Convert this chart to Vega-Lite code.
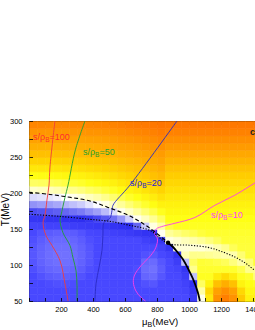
{
"$schema":"https://vega.github.io/schema/vega-lite/v6.json",
"width":256,"height":180,
"autosize":"none",
"padding":{"left":29,"top":121,"right":0,"bottom":29},
"background":"white",
"config":{
 "font":"Liberation Sans",
 "view":{"stroke":"black","strokeWidth":1},
 "axis":{"domain":false,"grid":false,"ticks":true,"tickColor":"black","tickWidth":0.8,"tickSize":-3.5,"labelFont":"Liberation Sans","labelFontSize":7.5,"labelColor":"black","titleFont":"Liberation Sans","titleColor":"black","titleFontWeight":"normal","labelFlush":false,"labelOverlap":false}
},
"datasets":{
"grid":[
{"m":0,"t":50,"v":-2},{"m":0,"t":60,"v":-2},{"m":0,"t":70,"v":-2},{"m":0,"t":80,"v":-2},{"m":0,"t":90,"v":-2.14},{"m":0,"t":100,"v":-2.25},{"m":0,"t":110,"v":-2.29},{"m":0,"t":120,"v":-2.25},{"m":0,"t":130,"v":-2.14},{"m":0,"t":140,"v":-2},{"m":0,"t":150,"v":-1.8},{"m":0,"t":160,"v":-1.3},{"m":0,"t":170,"v":-0.86},{"m":0,"t":180,"v":-0.52},{"m":0,"t":190,"v":-0.17},{"m":0,"t":200,"v":0.5},{"m":0,"t":210,"v":1.39},{"m":0,"t":220,"v":2.03},{"m":0,"t":230,"v":2.53},{"m":0,"t":240,"v":2.98},{"m":0,"t":250,"v":3.36},{"m":0,"t":260,"v":3.68},{"m":0,"t":270,"v":3.96},{"m":0,"t":280,"v":4.22},{"m":0,"t":290,"v":4.52},
{"m":50,"t":50,"v":-2},{"m":50,"t":60,"v":-2},{"m":50,"t":70,"v":-2},{"m":50,"t":80,"v":-2.19},{"m":50,"t":90,"v":-2.38},{"m":50,"t":100,"v":-2.5},{"m":50,"t":110,"v":-2.54},{"m":50,"t":120,"v":-2.5},{"m":50,"t":130,"v":-2.38},{"m":50,"t":140,"v":-2.19},{"m":50,"t":150,"v":-1.75},{"m":50,"t":160,"v":-1.25},{"m":50,"t":170,"v":-0.83},{"m":50,"t":180,"v":-0.48},{"m":50,"t":190,"v":-0.14},{"m":50,"t":200,"v":0.58},{"m":50,"t":210,"v":1.44},{"m":50,"t":220,"v":2.07},{"m":50,"t":230,"v":2.55},{"m":50,"t":240,"v":2.99},{"m":50,"t":250,"v":3.36},{"m":50,"t":260,"v":3.68},{"m":50,"t":270,"v":3.95},{"m":50,"t":280,"v":4.21},{"m":50,"t":290,"v":4.5},
{"m":100,"t":50,"v":-2},{"m":100,"t":60,"v":-2},{"m":100,"t":70,"v":-2.08},{"m":100,"t":80,"v":-2.36},{"m":100,"t":90,"v":-2.55},{"m":100,"t":100,"v":-2.67},{"m":100,"t":110,"v":-2.71},{"m":100,"t":120,"v":-2.67},{"m":100,"t":130,"v":-2.55},{"m":100,"t":140,"v":-2.36},{"m":100,"t":150,"v":-1.78},{"m":100,"t":160,"v":-1.23},{"m":100,"t":170,"v":-0.81},{"m":100,"t":180,"v":-0.47},{"m":100,"t":190,"v":-0.12},{"m":100,"t":200,"v":0.62},{"m":100,"t":210,"v":1.46},{"m":100,"t":220,"v":2.07},{"m":100,"t":230,"v":2.55},{"m":100,"t":240,"v":2.98},{"m":100,"t":250,"v":3.34},{"m":100,"t":260,"v":3.66},{"m":100,"t":270,"v":3.93},{"m":100,"t":280,"v":4.18},{"m":100,"t":290,"v":4.47},
{"m":150,"t":50,"v":-2},{"m":150,"t":60,"v":-2},{"m":150,"t":70,"v":-2.16},{"m":150,"t":80,"v":-2.44},{"m":150,"t":90,"v":-2.63},{"m":150,"t":100,"v":-2.75},{"m":150,"t":110,"v":-2.79},{"m":150,"t":120,"v":-2.75},{"m":150,"t":130,"v":-2.63},{"m":150,"t":140,"v":-2.44},{"m":150,"t":150,"v":-1.78},{"m":150,"t":160,"v":-1.18},{"m":150,"t":170,"v":-0.77},{"m":150,"t":180,"v":-0.42},{"m":150,"t":190,"v":-0.07},{"m":150,"t":200,"v":0.75},{"m":150,"t":210,"v":1.53},{"m":150,"t":220,"v":2.12},{"m":150,"t":230,"v":2.58},{"m":150,"t":240,"v":3},{"m":150,"t":250,"v":3.36},{"m":150,"t":260,"v":3.67},{"m":150,"t":270,"v":3.93},{"m":150,"t":280,"v":4.18},{"m":150,"t":290,"v":4.46},
{"m":200,"t":50,"v":-2},{"m":200,"t":60,"v":-2},{"m":200,"t":70,"v":-2.16},{"m":200,"t":80,"v":-2.44},{"m":200,"t":90,"v":-2.63},{"m":200,"t":100,"v":-2.75},{"m":200,"t":110,"v":-2.79},{"m":200,"t":120,"v":-2.75},{"m":200,"t":130,"v":-2.63},{"m":200,"t":140,"v":-2.44},{"m":200,"t":150,"v":-1.72},{"m":200,"t":160,"v":-1.13},{"m":200,"t":170,"v":-0.73},{"m":200,"t":180,"v":-0.36},{"m":200,"t":190,"v":0},{"m":200,"t":200,"v":0.92},{"m":200,"t":210,"v":1.64},{"m":200,"t":220,"v":2.18},{"m":200,"t":230,"v":2.64},{"m":200,"t":240,"v":3.04},{"m":200,"t":250,"v":3.39},{"m":200,"t":260,"v":3.69},{"m":200,"t":270,"v":3.94},{"m":200,"t":280,"v":4.19},{"m":200,"t":290,"v":4.46},
{"m":250,"t":50,"v":-2},{"m":250,"t":60,"v":-2},{"m":250,"t":70,"v":-2.08},{"m":250,"t":80,"v":-2.36},{"m":250,"t":90,"v":-2.55},{"m":250,"t":100,"v":-2.67},{"m":250,"t":110,"v":-2.71},{"m":250,"t":120,"v":-2.67},{"m":250,"t":130,"v":-2.55},{"m":250,"t":140,"v":-2.36},{"m":250,"t":150,"v":-1.62},{"m":250,"t":160,"v":-1.08},{"m":250,"t":170,"v":-0.68},{"m":250,"t":180,"v":-0.3},{"m":250,"t":190,"v":0.18},{"m":250,"t":200,"v":1.07},{"m":250,"t":210,"v":1.74},{"m":250,"t":220,"v":2.25},{"m":250,"t":230,"v":2.7},{"m":250,"t":240,"v":3.08},{"m":250,"t":250,"v":3.41},{"m":250,"t":260,"v":3.7},{"m":250,"t":270,"v":3.95},{"m":250,"t":280,"v":4.19},{"m":250,"t":290,"v":4.47},
{"m":300,"t":50,"v":-2},{"m":300,"t":60,"v":-2},{"m":300,"t":70,"v":-2},{"m":300,"t":80,"v":-2.19},{"m":300,"t":90,"v":-2.38},{"m":300,"t":100,"v":-2.5},{"m":300,"t":110,"v":-2.54},{"m":300,"t":120,"v":-2.5},{"m":300,"t":130,"v":-2.38},{"m":300,"t":140,"v":-2.19},{"m":300,"t":150,"v":-1.53},{"m":300,"t":160,"v":-1.03},{"m":300,"t":170,"v":-0.63},{"m":300,"t":180,"v":-0.24},{"m":300,"t":190,"v":0.35},{"m":300,"t":200,"v":1.19},{"m":300,"t":210,"v":1.83},{"m":300,"t":220,"v":2.31},{"m":300,"t":230,"v":2.75},{"m":300,"t":240,"v":3.11},{"m":300,"t":250,"v":3.43},{"m":300,"t":260,"v":3.72},{"m":300,"t":270,"v":3.96},{"m":300,"t":280,"v":4.2},{"m":300,"t":290,"v":4.46},
{"m":350,"t":50,"v":-2},{"m":350,"t":60,"v":-2},{"m":350,"t":70,"v":-2},{"m":350,"t":80,"v":-2},{"m":350,"t":90,"v":-2.14},{"m":350,"t":100,"v":-2.25},{"m":350,"t":110,"v":-2.29},{"m":350,"t":120,"v":-2.25},{"m":350,"t":130,"v":-2.14},{"m":350,"t":140,"v":-1.95},{"m":350,"t":150,"v":-1.45},{"m":350,"t":160,"v":-0.96},{"m":350,"t":170,"v":-0.54},{"m":350,"t":180,"v":-0.13},{"m":350,"t":190,"v":0.61},{"m":350,"t":200,"v":1.38},{"m":350,"t":210,"v":1.96},{"m":350,"t":220,"v":2.41},{"m":350,"t":230,"v":2.83},{"m":350,"t":240,"v":3.18},{"m":350,"t":250,"v":3.49},{"m":350,"t":260,"v":3.76},{"m":350,"t":270,"v":3.99},{"m":350,"t":280,"v":4.23},{"m":350,"t":290,"v":4.49},
{"m":400,"t":50,"v":-2},{"m":400,"t":60,"v":-2},{"m":400,"t":70,"v":-2},{"m":400,"t":80,"v":-2},{"m":400,"t":90,"v":-2},{"m":400,"t":100,"v":-2},{"m":400,"t":110,"v":-2},{"m":400,"t":120,"v":-2},{"m":400,"t":130,"v":-2},{"m":400,"t":140,"v":-1.88},{"m":400,"t":150,"v":-1.38},{"m":400,"t":160,"v":-0.89},{"m":400,"t":170,"v":-0.46},{"m":400,"t":180,"v":-0.02},{"m":400,"t":190,"v":0.81},{"m":400,"t":200,"v":1.51},{"m":400,"t":210,"v":2.06},{"m":400,"t":220,"v":2.48},{"m":400,"t":230,"v":2.88},{"m":400,"t":240,"v":3.22},{"m":400,"t":250,"v":3.52},{"m":400,"t":260,"v":3.78},{"m":400,"t":270,"v":4},{"m":400,"t":280,"v":4.24},{"m":400,"t":290,"v":4.5},
{"m":450,"t":50,"v":-2},{"m":450,"t":60,"v":-2},{"m":450,"t":70,"v":-2},{"m":450,"t":80,"v":-2},{"m":450,"t":90,"v":-2},{"m":450,"t":100,"v":-2},{"m":450,"t":110,"v":-2},{"m":450,"t":120,"v":-2},{"m":450,"t":130,"v":-2},{"m":450,"t":140,"v":-1.8},{"m":450,"t":150,"v":-1.3},{"m":450,"t":160,"v":-0.81},{"m":450,"t":170,"v":-0.33},{"m":450,"t":180,"v":0.25},{"m":450,"t":190,"v":1.07},{"m":450,"t":200,"v":1.69},{"m":450,"t":210,"v":2.18},{"m":450,"t":220,"v":2.6},{"m":450,"t":230,"v":2.97},{"m":450,"t":240,"v":3.29},{"m":450,"t":250,"v":3.58},{"m":450,"t":260,"v":3.83},{"m":450,"t":270,"v":4.04},{"m":450,"t":280,"v":4.28},{"m":450,"t":290,"v":4.53},
{"m":500,"t":50,"v":-2},{"m":500,"t":60,"v":-2},{"m":500,"t":70,"v":-2},{"m":500,"t":80,"v":-2},{"m":500,"t":90,"v":-2},{"m":500,"t":100,"v":-2},{"m":500,"t":110,"v":-2},{"m":500,"t":120,"v":-2},{"m":500,"t":130,"v":-2},{"m":500,"t":140,"v":-1.7},{"m":500,"t":150,"v":-1.2},{"m":500,"t":160,"v":-0.68},{"m":500,"t":170,"v":-0.16},{"m":500,"t":180,"v":0.57},{"m":500,"t":190,"v":1.31},{"m":500,"t":200,"v":1.87},{"m":500,"t":210,"v":2.31},{"m":500,"t":220,"v":2.72},{"m":500,"t":230,"v":3.06},{"m":500,"t":240,"v":3.36},{"m":500,"t":250,"v":3.63},{"m":500,"t":260,"v":3.88},{"m":500,"t":270,"v":4.08},{"m":500,"t":280,"v":4.32},{"m":500,"t":290,"v":4.57},
{"m":550,"t":50,"v":-2},{"m":550,"t":60,"v":-2},{"m":550,"t":70,"v":-2},{"m":550,"t":80,"v":-2},{"m":550,"t":90,"v":-2},{"m":550,"t":100,"v":-2},{"m":550,"t":110,"v":-2},{"m":550,"t":120,"v":-2},{"m":550,"t":130,"v":-2},{"m":550,"t":140,"v":-1.6},{"m":550,"t":150,"v":-1.1},{"m":550,"t":160,"v":-0.5},{"m":550,"t":170,"v":0.16},{"m":550,"t":180,"v":0.96},{"m":550,"t":190,"v":1.58},{"m":550,"t":200,"v":2.08},{"m":550,"t":210,"v":2.48},{"m":550,"t":220,"v":2.86},{"m":550,"t":230,"v":3.18},{"m":550,"t":240,"v":3.46},{"m":550,"t":250,"v":3.72},{"m":550,"t":260,"v":3.94},{"m":550,"t":270,"v":4.15},{"m":550,"t":280,"v":4.39},{"m":550,"t":290,"v":4.63},
{"m":600,"t":50,"v":-2},{"m":600,"t":60,"v":-2},{"m":600,"t":70,"v":-2},{"m":600,"t":80,"v":-2},{"m":600,"t":90,"v":-2},{"m":600,"t":100,"v":-2},{"m":600,"t":110,"v":-2},{"m":600,"t":120,"v":-2},{"m":600,"t":130,"v":-2},{"m":600,"t":140,"v":-1.5},{"m":600,"t":150,"v":-1},{"m":600,"t":160,"v":-0.23},{"m":600,"t":170,"v":0.55},{"m":600,"t":180,"v":1.26},{"m":600,"t":190,"v":1.82},{"m":600,"t":200,"v":2.25},{"m":600,"t":210,"v":2.64},{"m":600,"t":220,"v":2.98},{"m":600,"t":230,"v":3.28},{"m":600,"t":240,"v":3.55},{"m":600,"t":250,"v":3.79},{"m":600,"t":260,"v":3.99},{"m":600,"t":270,"v":4.19},{"m":600,"t":280,"v":4.44},{"m":600,"t":290,"v":4.68},
{"m":650,"t":50,"v":-2},{"m":650,"t":60,"v":-2},{"m":650,"t":70,"v":-2},{"m":650,"t":80,"v":-2},{"m":650,"t":90,"v":-2.09},{"m":650,"t":100,"v":-2},{"m":650,"t":110,"v":-2},{"m":650,"t":120,"v":-2},{"m":650,"t":130,"v":-2},{"m":650,"t":140,"v":-1.35},{"m":650,"t":150,"v":-0.73},{"m":650,"t":160,"v":0.15},{"m":650,"t":170,"v":0.92},{"m":650,"t":180,"v":1.53},{"m":650,"t":190,"v":2.01},{"m":650,"t":200,"v":2.41},{"m":650,"t":210,"v":2.79},{"m":650,"t":220,"v":3.1},{"m":650,"t":230,"v":3.38},{"m":650,"t":240,"v":3.63},{"m":650,"t":250,"v":3.86},{"m":650,"t":260,"v":4.05},{"m":650,"t":270,"v":4.27},{"m":650,"t":280,"v":4.5},{"m":650,"t":290,"v":4.72},
{"m":700,"t":50,"v":-2},{"m":700,"t":60,"v":-2},{"m":700,"t":70,"v":-2.17},{"m":700,"t":80,"v":-2.55},{"m":700,"t":90,"v":-2.68},{"m":700,"t":100,"v":-2.55},{"m":700,"t":110,"v":-2.17},{"m":700,"t":120,"v":-2},{"m":700,"t":130,"v":-1.7},{"m":700,"t":140,"v":-1.2},{"m":700,"t":150,"v":-0.25},{"m":700,"t":160,"v":0.6},{"m":700,"t":170,"v":1.27},{"m":700,"t":180,"v":1.8},{"m":700,"t":190,"v":2.22},{"m":700,"t":200,"v":2.59},{"m":700,"t":210,"v":2.93},{"m":700,"t":220,"v":3.22},{"m":700,"t":230,"v":3.49},{"m":700,"t":240,"v":3.72},{"m":700,"t":250,"v":3.93},{"m":700,"t":260,"v":4.12},{"m":700,"t":270,"v":4.34},{"m":700,"t":280,"v":4.57},{"m":700,"t":290,"v":4.76},
{"m":750,"t":50,"v":-2},{"m":750,"t":60,"v":-2},{"m":750,"t":70,"v":-2.27},{"m":750,"t":80,"v":-2.65},{"m":750,"t":90,"v":-2.78},{"m":750,"t":100,"v":-2.65},{"m":750,"t":110,"v":-2.27},{"m":750,"t":120,"v":-2},{"m":750,"t":130,"v":-1.5},{"m":750,"t":140,"v":-1},{"m":750,"t":150,"v":0.29},{"m":750,"t":160,"v":1.02},{"m":750,"t":170,"v":1.58},{"m":750,"t":180,"v":2.04},{"m":750,"t":190,"v":2.41},{"m":750,"t":200,"v":2.77},{"m":750,"t":210,"v":3.07},{"m":750,"t":220,"v":3.34},{"m":750,"t":230,"v":3.59},{"m":750,"t":240,"v":3.81},{"m":750,"t":250,"v":4},{"m":750,"t":260,"v":4.19},{"m":750,"t":270,"v":4.41},{"m":750,"t":280,"v":4.63},{"m":750,"t":290,"v":4.8},
{"m":800,"t":50,"v":-2},{"m":800,"t":60,"v":-2},{"m":800,"t":70,"v":-2},{"m":800,"t":80,"v":-2.26},{"m":800,"t":90,"v":-2.38},{"m":800,"t":100,"v":-2.26},{"m":800,"t":110,"v":-2},{"m":800,"t":120,"v":-1.75},{"m":800,"t":130,"v":-1.25},{"m":800,"t":140,"v":0.14},{"m":800,"t":150,"v":0.85},{"m":800,"t":160,"v":1.44},{"m":800,"t":170,"v":1.92},{"m":800,"t":180,"v":2.3},{"m":800,"t":190,"v":2.65},{"m":800,"t":200,"v":2.96},{"m":800,"t":210,"v":3.24},{"m":800,"t":220,"v":3.49},{"m":800,"t":230,"v":3.71},{"m":800,"t":240,"v":3.91},{"m":800,"t":250,"v":4.09},{"m":800,"t":260,"v":4.3},{"m":800,"t":270,"v":4.51},{"m":800,"t":280,"v":4.72},{"m":800,"t":290,"v":4.86},
{"m":850,"t":50,"v":-2},{"m":850,"t":60,"v":-2},{"m":850,"t":70,"v":-2},{"m":850,"t":80,"v":-2},{"m":850,"t":90,"v":-2},{"m":850,"t":100,"v":-2},{"m":850,"t":110,"v":-1.78},{"m":850,"t":120,"v":-1.3},{"m":850,"t":130,"v":0.28},{"m":850,"t":140,"v":0.98},{"m":850,"t":150,"v":1.68},{"m":850,"t":160,"v":2},{"m":850,"t":170,"v":2.15},{"m":850,"t":180,"v":2.3},{"m":850,"t":190,"v":2.5},{"m":850,"t":200,"v":2.7},{"m":850,"t":210,"v":2.9},{"m":850,"t":220,"v":3.1},{"m":850,"t":230,"v":3.35},{"m":850,"t":240,"v":3.6},{"m":850,"t":250,"v":3.85},{"m":850,"t":260,"v":4.1},{"m":850,"t":270,"v":4.35},{"m":850,"t":280,"v":4.6},{"m":850,"t":290,"v":4.8},
{"m":900,"t":50,"v":-2},{"m":900,"t":60,"v":-2},{"m":900,"t":70,"v":-2},{"m":900,"t":80,"v":-2},{"m":900,"t":90,"v":-1.84},{"m":900,"t":100,"v":-1.56},{"m":900,"t":110,"v":-1.2},{"m":900,"t":120,"v":0.4},{"m":900,"t":130,"v":0.47},{"m":900,"t":140,"v":1.17},{"m":900,"t":150,"v":1.9},{"m":900,"t":160,"v":2},{"m":900,"t":170,"v":2.15},{"m":900,"t":180,"v":2.3},{"m":900,"t":190,"v":2.5},{"m":900,"t":200,"v":2.7},{"m":900,"t":210,"v":2.9},{"m":900,"t":220,"v":3.1},{"m":900,"t":230,"v":3.35},{"m":900,"t":240,"v":3.6},{"m":900,"t":250,"v":3.85},{"m":900,"t":260,"v":4.1},{"m":900,"t":270,"v":4.35},{"m":900,"t":280,"v":4.6},{"m":900,"t":290,"v":4.8},
{"m":950,"t":50,"v":-2},{"m":950,"t":60,"v":-1.89},{"m":950,"t":70,"v":-1.75},{"m":950,"t":80,"v":-1.54},{"m":950,"t":90,"v":-1.29},{"m":950,"t":100,"v":-0.3},{"m":950,"t":110,"v":0.7},{"m":950,"t":120,"v":0.37},{"m":950,"t":130,"v":0.65},{"m":950,"t":140,"v":1.35},{"m":950,"t":150,"v":1.9},{"m":950,"t":160,"v":2},{"m":950,"t":170,"v":2.15},{"m":950,"t":180,"v":2.3},{"m":950,"t":190,"v":2.5},{"m":950,"t":200,"v":2.7},{"m":950,"t":210,"v":2.9},{"m":950,"t":220,"v":3.1},{"m":950,"t":230,"v":3.35},{"m":950,"t":240,"v":3.6},{"m":950,"t":250,"v":3.85},{"m":950,"t":260,"v":4.1},{"m":950,"t":270,"v":4.35},{"m":950,"t":280,"v":4.6},{"m":950,"t":290,"v":4.8},
{"m":1000,"t":50,"v":-1.46},{"m":1000,"t":60,"v":-1.34},{"m":1000,"t":70,"v":-1.2},{"m":1000,"t":80,"v":-0.3},{"m":1000,"t":90,"v":1.06},{"m":1000,"t":100,"v":1.4},{"m":1000,"t":110,"v":1.08},{"m":1000,"t":120,"v":0.38},{"m":1000,"t":130,"v":0.8},{"m":1000,"t":140,"v":1.5},{"m":1000,"t":150,"v":1.9},{"m":1000,"t":160,"v":2},{"m":1000,"t":170,"v":2.15},{"m":1000,"t":180,"v":2.3},{"m":1000,"t":190,"v":2.5},{"m":1000,"t":200,"v":2.7},{"m":1000,"t":210,"v":2.9},{"m":1000,"t":220,"v":3.1},{"m":1000,"t":230,"v":3.35},{"m":1000,"t":240,"v":3.6},{"m":1000,"t":250,"v":3.85},{"m":1000,"t":260,"v":4.1},{"m":1000,"t":270,"v":4.35},{"m":1000,"t":280,"v":4.6},{"m":1000,"t":290,"v":4.8},
{"m":1050,"t":50,"v":0.2},{"m":1050,"t":60,"v":0.84},{"m":1050,"t":70,"v":1.4},{"m":1050,"t":80,"v":1.9},{"m":1050,"t":90,"v":1.8},{"m":1050,"t":100,"v":1.75},{"m":1050,"t":110,"v":1.06},{"m":1050,"t":120,"v":0.36},{"m":1050,"t":130,"v":0.99},{"m":1050,"t":140,"v":1.69},{"m":1050,"t":150,"v":1.9},{"m":1050,"t":160,"v":2},{"m":1050,"t":170,"v":2.15},{"m":1050,"t":180,"v":2.3},{"m":1050,"t":190,"v":2.5},{"m":1050,"t":200,"v":2.7},{"m":1050,"t":210,"v":2.9},{"m":1050,"t":220,"v":3.1},{"m":1050,"t":230,"v":3.35},{"m":1050,"t":240,"v":3.6},{"m":1050,"t":250,"v":3.85},{"m":1050,"t":260,"v":4.1},{"m":1050,"t":270,"v":4.35},{"m":1050,"t":280,"v":4.6},{"m":1050,"t":290,"v":4.8},
{"m":1100,"t":50,"v":2.55},{"m":1100,"t":60,"v":2.87},{"m":1100,"t":70,"v":2.25},{"m":1100,"t":80,"v":1.9},{"m":1100,"t":90,"v":1.8},{"m":1100,"t":100,"v":1.7},{"m":1100,"t":110,"v":1},{"m":1100,"t":120,"v":0.5},{"m":1100,"t":130,"v":1.2},{"m":1100,"t":140,"v":1.8},{"m":1100,"t":150,"v":1.9},{"m":1100,"t":160,"v":2},{"m":1100,"t":170,"v":2.15},{"m":1100,"t":180,"v":2.3},{"m":1100,"t":190,"v":2.5},{"m":1100,"t":200,"v":2.7},{"m":1100,"t":210,"v":2.9},{"m":1100,"t":220,"v":3.1},{"m":1100,"t":230,"v":3.35},{"m":1100,"t":240,"v":3.6},{"m":1100,"t":250,"v":3.85},{"m":1100,"t":260,"v":4.1},{"m":1100,"t":270,"v":4.35},{"m":1100,"t":280,"v":4.6},{"m":1100,"t":290,"v":4.8},
{"m":1150,"t":50,"v":4.29},{"m":1150,"t":60,"v":3.98},{"m":1150,"t":70,"v":3.35},{"m":1150,"t":80,"v":2.42},{"m":1150,"t":90,"v":1.8},{"m":1150,"t":100,"v":1.6},{"m":1150,"t":110,"v":0.9},{"m":1150,"t":120,"v":0.76},{"m":1150,"t":130,"v":1.46},{"m":1150,"t":140,"v":1.8},{"m":1150,"t":150,"v":1.9},{"m":1150,"t":160,"v":2},{"m":1150,"t":170,"v":2.15},{"m":1150,"t":180,"v":2.3},{"m":1150,"t":190,"v":2.5},{"m":1150,"t":200,"v":2.7},{"m":1150,"t":210,"v":2.9},{"m":1150,"t":220,"v":3.1},{"m":1150,"t":230,"v":3.35},{"m":1150,"t":240,"v":3.6},{"m":1150,"t":250,"v":3.85},{"m":1150,"t":260,"v":4.1},{"m":1150,"t":270,"v":4.35},{"m":1150,"t":280,"v":4.6},{"m":1150,"t":290,"v":4.8},
{"m":1200,"t":50,"v":4.66},{"m":1200,"t":60,"v":4.35},{"m":1200,"t":70,"v":3.73},{"m":1200,"t":80,"v":2.79},{"m":1200,"t":90,"v":1.8},{"m":1200,"t":100,"v":1.47},{"m":1200,"t":110,"v":0.77},{"m":1200,"t":120,"v":1.05},{"m":1200,"t":130,"v":1.75},{"m":1200,"t":140,"v":1.8},{"m":1200,"t":150,"v":1.9},{"m":1200,"t":160,"v":2},{"m":1200,"t":170,"v":2.15},{"m":1200,"t":180,"v":2.3},{"m":1200,"t":190,"v":2.5},{"m":1200,"t":200,"v":2.7},{"m":1200,"t":210,"v":2.9},{"m":1200,"t":220,"v":3.1},{"m":1200,"t":230,"v":3.35},{"m":1200,"t":240,"v":3.6},{"m":1200,"t":250,"v":3.85},{"m":1200,"t":260,"v":4.1},{"m":1200,"t":270,"v":4.35},{"m":1200,"t":280,"v":4.6},{"m":1200,"t":290,"v":4.8},
{"m":1250,"t":50,"v":4.29},{"m":1250,"t":60,"v":3.98},{"m":1250,"t":70,"v":3.35},{"m":1250,"t":80,"v":2.42},{"m":1250,"t":90,"v":1.8},{"m":1250,"t":100,"v":1.2},{"m":1250,"t":110,"v":0.78},{"m":1250,"t":120,"v":1.48},{"m":1250,"t":130,"v":1.75},{"m":1250,"t":140,"v":1.8},{"m":1250,"t":150,"v":1.9},{"m":1250,"t":160,"v":2},{"m":1250,"t":170,"v":2.15},{"m":1250,"t":180,"v":2.3},{"m":1250,"t":190,"v":2.5},{"m":1250,"t":200,"v":2.7},{"m":1250,"t":210,"v":2.9},{"m":1250,"t":220,"v":3.1},{"m":1250,"t":230,"v":3.35},{"m":1250,"t":240,"v":3.6},{"m":1250,"t":250,"v":3.85},{"m":1250,"t":260,"v":4.1},{"m":1250,"t":270,"v":4.35},{"m":1250,"t":280,"v":4.6},{"m":1250,"t":290,"v":4.8},
{"m":1300,"t":50,"v":3.18},{"m":1300,"t":60,"v":2.87},{"m":1300,"t":70,"v":2.25},{"m":1300,"t":80,"v":1.9},{"m":1300,"t":90,"v":1.56},{"m":1300,"t":100,"v":0.86},{"m":1300,"t":110,"v":1.28},{"m":1300,"t":120,"v":1.7},{"m":1300,"t":130,"v":1.75},{"m":1300,"t":140,"v":1.8},{"m":1300,"t":150,"v":1.9},{"m":1300,"t":160,"v":2},{"m":1300,"t":170,"v":2.15},{"m":1300,"t":180,"v":2.3},{"m":1300,"t":190,"v":2.5},{"m":1300,"t":200,"v":2.7},{"m":1300,"t":210,"v":2.9},{"m":1300,"t":220,"v":3.1},{"m":1300,"t":230,"v":3.35},{"m":1300,"t":240,"v":3.6},{"m":1300,"t":250,"v":3.85},{"m":1300,"t":260,"v":4.1},{"m":1300,"t":270,"v":4.35},{"m":1300,"t":280,"v":4.6},{"m":1300,"t":290,"v":4.8},
{"m":1350,"t":50,"v":2.3},{"m":1350,"t":60,"v":2.15},{"m":1350,"t":70,"v":2},{"m":1350,"t":80,"v":1.78},{"m":1350,"t":90,"v":1.08},{"m":1350,"t":100,"v":1.22},{"m":1350,"t":110,"v":1.7},{"m":1350,"t":120,"v":1.7},{"m":1350,"t":130,"v":1.75},{"m":1350,"t":140,"v":1.8},{"m":1350,"t":150,"v":1.9},{"m":1350,"t":160,"v":2},{"m":1350,"t":170,"v":2.15},{"m":1350,"t":180,"v":2.3},{"m":1350,"t":190,"v":2.5},{"m":1350,"t":200,"v":2.7},{"m":1350,"t":210,"v":2.9},{"m":1350,"t":220,"v":3.1},{"m":1350,"t":230,"v":3.35},{"m":1350,"t":240,"v":3.6},{"m":1350,"t":250,"v":3.85},{"m":1350,"t":260,"v":4.1},{"m":1350,"t":270,"v":4.35},{"m":1350,"t":280,"v":4.6},{"m":1350,"t":290,"v":4.8},
{"m":1400,"t":50,"v":2.3},{"m":1400,"t":60,"v":2.15},{"m":1400,"t":70,"v":1.92},{"m":1400,"t":80,"v":1.22},{"m":1400,"t":90,"v":1.08},{"m":1400,"t":100,"v":1.75},{"m":1400,"t":110,"v":1.7},{"m":1400,"t":120,"v":1.7},{"m":1400,"t":130,"v":1.75},{"m":1400,"t":140,"v":1.8},{"m":1400,"t":150,"v":1.9},{"m":1400,"t":160,"v":2},{"m":1400,"t":170,"v":2.15},{"m":1400,"t":180,"v":2.3},{"m":1400,"t":190,"v":2.5},{"m":1400,"t":200,"v":2.7},{"m":1400,"t":210,"v":2.9},{"m":1400,"t":220,"v":3.1},{"m":1400,"t":230,"v":3.35},{"m":1400,"t":240,"v":3.6},{"m":1400,"t":250,"v":3.85},{"m":1400,"t":260,"v":4.1},{"m":1400,"t":270,"v":4.35},{"m":1400,"t":280,"v":4.6},{"m":1400,"t":290,"v":4.8},
{"m":1450,"t":50,"v":2.3},{"m":1450,"t":60,"v":2.06},{"m":1450,"t":70,"v":1.36},{"m":1450,"t":80,"v":0.94},{"m":1450,"t":90,"v":1.64},{"m":1450,"t":100,"v":1.75},{"m":1450,"t":110,"v":1.7},{"m":1450,"t":120,"v":1.7},{"m":1450,"t":130,"v":1.75},{"m":1450,"t":140,"v":1.8},{"m":1450,"t":150,"v":1.9},{"m":1450,"t":160,"v":2},{"m":1450,"t":170,"v":2.15},{"m":1450,"t":180,"v":2.3},{"m":1450,"t":190,"v":2.5},{"m":1450,"t":200,"v":2.7},{"m":1450,"t":210,"v":2.9},{"m":1450,"t":220,"v":3.1},{"m":1450,"t":230,"v":3.35},{"m":1450,"t":240,"v":3.6},{"m":1450,"t":250,"v":3.85},{"m":1450,"t":260,"v":4.1},{"m":1450,"t":270,"v":4.35},{"m":1450,"t":280,"v":4.6},{"m":1450,"t":290,"v":4.8}
],
"iso":[
{"s":"100","o":1,"m":162,"t":300},{"s":"100","o":2,"m":131,"t":236},{"s":"100","o":3,"m":125,"t":211},{"s":"100","o":4,"m":112,"t":190},{"s":"100","o":5,"m":100,"t":169},{"s":"100","o":6,"m":88,"t":159},{"s":"100","o":7,"m":106,"t":141},{"s":"100","o":8,"m":144,"t":127},{"s":"100","o":9,"m":194,"t":106},{"s":"100","o":10,"m":225,"t":74},{"s":"100","o":11,"m":244,"t":50},
{"s":"50","o":1,"m":350,"t":300},{"s":"50","o":2,"m":290,"t":260},{"s":"50","o":3,"m":244,"t":211},{"s":"50","o":4,"m":225,"t":194},{"s":"50","o":5,"m":200,"t":169},{"s":"50","o":6,"m":194,"t":162},{"s":"50","o":7,"m":212,"t":145},{"s":"50","o":8,"m":256,"t":127},{"s":"50","o":9,"m":275,"t":110},{"s":"50","o":10,"m":294,"t":92},{"s":"50","o":11,"m":300,"t":72},{"s":"50","o":12,"m":300,"t":50},
{"s":"20","o":1,"m":925,"t":300},{"s":"20","o":2,"m":631,"t":211},{"s":"20","o":3,"m":525,"t":183},{"s":"20","o":4,"m":519,"t":176},{"s":"20","o":5,"m":506,"t":165},{"s":"20","o":6,"m":469,"t":159},{"s":"20","o":7,"m":462,"t":141},{"s":"20","o":8,"m":456,"t":120},{"s":"20","o":9,"m":438,"t":97},{"s":"20","o":10,"m":419,"t":74},{"s":"20","o":11,"m":412,"t":50},
{"s":"10","o":1,"m":1500,"t":226},{"s":"10","o":2,"m":1412,"t":214},{"s":"10","o":3,"m":1287,"t":197},{"s":"10","o":4,"m":1162,"t":183},{"s":"10","o":5,"m":1037,"t":166},{"s":"10","o":6,"m":912,"t":158},{"s":"10","o":7,"m":840,"t":154},{"s":"10","o":8,"m":795,"t":150},{"s":"10","o":9,"m":785,"t":144},{"s":"10","o":10,"m":803,"t":136},{"s":"10","o":11,"m":792,"t":124},{"s":"10","o":12,"m":760,"t":113},{"s":"10","o":13,"m":700,"t":99},{"s":"10","o":14,"m":660,"t":86},{"s":"10","o":15,"m":652,"t":76},{"s":"10","o":16,"m":668,"t":64},{"s":"10","o":17,"m":700,"t":55},{"s":"10","o":18,"m":728,"t":50}
],
"blk":[
{"k":"dash","o":1,"m":0,"t":201},{"k":"dash","o":2,"m":131,"t":198},{"k":"dash","o":3,"m":256,"t":194},{"k":"dash","o":4,"m":381,"t":189},{"k":"dash","o":5,"m":494,"t":180},{"k":"dash","o":6,"m":631,"t":168},{"k":"dash","o":7,"m":756,"t":151},{"k":"dash","o":8,"m":869,"t":131},
{"k":"dot","o":1,"m":0,"t":170.5},{"k":"dot","o":2,"m":194,"t":167.5},{"k":"dot","o":3,"m":381,"t":163.4},{"k":"dot","o":4,"m":494,"t":161},{"k":"dot","o":5,"m":631,"t":155},{"k":"dot","o":6,"m":756,"t":148},{"k":"dot","o":7,"m":869,"t":130},{"k":"dot","o":8,"m":1000,"t":127.5},{"k":"dot","o":9,"m":1119,"t":124.5},{"k":"dot","o":10,"m":1200,"t":119},{"k":"dot","o":11,"m":1287,"t":111},{"k":"dot","o":12,"m":1350,"t":103},{"k":"dot","o":13,"m":1412,"t":92.5},{"k":"dot","o":14,"m":1500,"t":79},
{"k":"solid","o":1,"m":869,"t":131},{"k":"solid","o":2,"m":900,"t":125},{"k":"solid","o":3,"m":931,"t":117},{"k":"solid","o":4,"m":962,"t":108},{"k":"solid","o":5,"m":994,"t":95},{"k":"solid","o":6,"m":1020,"t":83},{"k":"solid","o":7,"m":1037,"t":74},{"k":"solid","o":8,"m":1055,"t":62},{"k":"solid","o":9,"m":1068,"t":50}
],
"lab":[
{"s":"100","e":"=100","m":25,"t":277.8},
{"s":"50","e":"=50","m":337,"t":256.9},
{"s":"20","e":"=20","m":631,"t":213.2},
{"s":"10","e":"=10","m":1137,"t":169.4}
]
},
"layer":[
{"data":{"name":"grid"},
 "mark":{"type":"rect","strokeWidth":0.6},
 "encoding":{
  "x":{"field":"m","type":"quantitative","bin":{"binned":true,"step":50},"scale":{"domain":[0,1600],"nice":false,"zero":false},
   "axis":{"orient":"bottom","values":[0,100,200,300,400,500,600,700,800,900,1000,1100,1200,1300,1400,1500,1600],"labelExpr":"datum.value % 200 == 0 && datum.value > 0 ? datum.label : ''","format":"d","labelPadding":7.5,"title":null}},
  "y":{"field":"t","type":"quantitative","bin":{"binned":true,"step":10},"scale":{"domain":[50,300],"nice":false,"zero":false},
   "axis":{"orient":"left","values":[50,75,100,125,150,175,200,225,250,275,300],"labelExpr":"datum.value % 50 == 0 ? datum.label : ''","labelPadding":10.5,"title":"T(MeV)","titleFontSize":10,"titleAngle":-90,"titleX":-23.5,"titleY":88,"titleAlign":"center","titleBaseline":"middle"}},
  "color":{"field":"v","type":"quantitative","scale":{"domain":[-3,-2,-1,0,1,2,3,4,5],"range":["#7c7cff","#4848ff","#2e2ef0","#ffffff","#ffff96","#ffff14","#ffd200","#ffa000","#ff6e00"],"interpolate":"rgb"},"legend":null},
  "stroke":{"field":"v","type":"quantitative","scale":{"domain":[-3,-2,-1,0,1,2,3,4,5],"range":["#7c7cff","#4848ff","#2e2ef0","#ffffff","#ffff96","#ffff14","#ffd200","#ffa000","#ff6e00"],"interpolate":"rgb"},"legend":null}
 }},
{"data":{"name":"iso"},
 "mark":{"type":"line","interpolate":"catmull-rom","strokeWidth":0.9},
 "encoding":{
  "x":{"field":"m","type":"quantitative","axis":null},
  "y":{"field":"t","type":"quantitative","axis":null},
  "detail":{"field":"s"},
  "order":{"field":"o","type":"quantitative"},
  "color":{"field":"s","type":"nominal","scale":{"domain":["100","50","20","10"],"range":["#f03c3c","#1f9e2f","#2a2ac4","#ff3ce8"]},"legend":null}
 }},
{"data":{"name":"blk"},"transform":[{"filter":"datum.k == 'dash'"}],
 "mark":{"type":"line","interpolate":"catmull-rom","color":"black","strokeWidth":1.1,"strokeDash":[4,2.5]},
 "encoding":{"x":{"field":"m","type":"quantitative","axis":null},"y":{"field":"t","type":"quantitative","axis":null},"order":{"field":"o","type":"quantitative"}}},
{"data":{"name":"blk"},"transform":[{"filter":"datum.k == 'dot'"}],
 "mark":{"type":"line","interpolate":"catmull-rom","color":"black","strokeWidth":1.1,"strokeDash":[1.2,1.6]},
 "encoding":{"x":{"field":"m","type":"quantitative","axis":null},"y":{"field":"t","type":"quantitative","axis":null},"order":{"field":"o","type":"quantitative"}}},
{"data":{"name":"blk"},"transform":[{"filter":"datum.k == 'solid'"}],
 "mark":{"type":"line","interpolate":"catmull-rom","color":"black","strokeWidth":1.8},
 "encoding":{"x":{"field":"m","type":"quantitative","axis":null},"y":{"field":"t","type":"quantitative","axis":null},"order":{"field":"o","type":"quantitative"}}},
{"data":{"values":[{"m":869,"t":131}]},
 "mark":{"type":"circle","size":20,"color":"black","opacity":1},
 "encoding":{"x":{"field":"m","type":"quantitative","axis":null},"y":{"field":"t","type":"quantitative","axis":null}}},
{"data":{"name":"lab"},
 "mark":{"type":"text","text":"s/ρ","align":"left","baseline":"middle","fontSize":9},
 "encoding":{"x":{"field":"m","type":"quantitative","axis":null},"y":{"field":"t","type":"quantitative","axis":null},
  "color":{"field":"s","type":"nominal","scale":{"domain":["100","50","20","10"],"range":["#ff2c2c","#1f9e2f","#1e1ed2","#ff3cff"]},"legend":null}}},
{"data":{"name":"lab"},
 "mark":{"type":"text","text":"B","align":"left","baseline":"middle","fontSize":6.5,"dx":12.2,"dy":2.6},
 "encoding":{"x":{"field":"m","type":"quantitative","axis":null},"y":{"field":"t","type":"quantitative","axis":null},
  "color":{"field":"s","type":"nominal","scale":{"domain":["100","50","20","10"],"range":["#ff2c2c","#1f9e2f","#1e1ed2","#ff3cff"]},"legend":null}}},
{"data":{"name":"lab"},
 "mark":{"type":"text","align":"left","baseline":"middle","fontSize":9,"dx":16.5},
 "encoding":{"x":{"field":"m","type":"quantitative","axis":null},"y":{"field":"t","type":"quantitative","axis":null},"text":{"field":"e"},
  "color":{"field":"s","type":"nominal","scale":{"domain":["100","50","20","10"],"range":["#ff2c2c","#1f9e2f","#1e1ed2","#ff3cff"]},"legend":null}}},
{"data":{"values":[{"m":1381,"t":284.7,"txt":"c)"}]},
 "mark":{"type":"text","align":"left","baseline":"middle","fontSize":9,"fontWeight":"bold","color":"#222222"},
 "encoding":{"x":{"field":"m","type":"quantitative","axis":null},"y":{"field":"t","type":"quantitative","axis":null},"text":{"field":"txt"}}},
{"data":{"values":[{"m":706,"t":20.8,"txt":"μ"}]},
 "mark":{"type":"text","align":"left","baseline":"middle","fontSize":9.5,"color":"black"},
 "encoding":{"x":{"field":"m","type":"quantitative","axis":null},"y":{"field":"t","type":"quantitative","axis":null},"text":{"field":"txt"}}},
{"data":{"values":[{"m":706,"t":20.8,"txt":"B"}]},
 "mark":{"type":"text","align":"left","baseline":"middle","fontSize":7,"dx":5.6,"dy":2.6,"color":"black"},
 "encoding":{"x":{"field":"m","type":"quantitative","axis":null},"y":{"field":"t","type":"quantitative","axis":null},"text":{"field":"txt"}}},
{"data":{"values":[{"m":706,"t":20.8,"txt":"(MeV)"}]},
 "mark":{"type":"text","align":"left","baseline":"middle","fontSize":9.5,"dx":10.4,"color":"black"},
 "encoding":{"x":{"field":"m","type":"quantitative","axis":null},"y":{"field":"t","type":"quantitative","axis":null},"text":{"field":"txt"}}},
{"data":{"name":"blk"},
 "mark":{"type":"point","opacity":0},
 "encoding":{
  "x":{"field":"m","type":"quantitative","axis":{"orient":"top","values":[0,100,200,300,400,500,600,700,800,900,1000,1100,1200,1300,1400,1500,1600],"labels":false,"title":null}},
  "y":{"field":"t","type":"quantitative","axis":null}}}
],
"resolve":{"axis":{"x":"independent","y":"independent"},"scale":{"color":"independent","stroke":"independent"}}
}
